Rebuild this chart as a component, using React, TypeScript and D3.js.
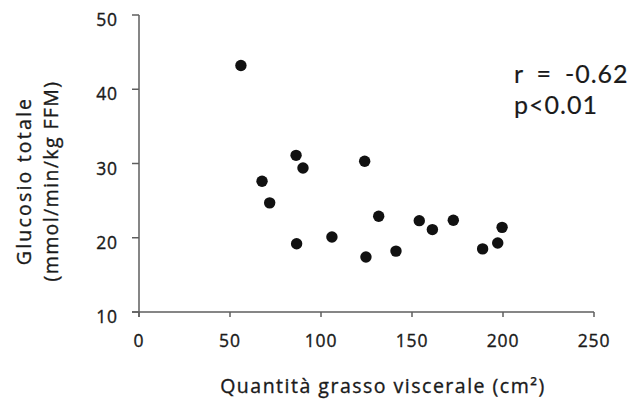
import React from "react";
import * as d3 from "d3";

const grassoViscerale = [56, 67.6, 71.8, 86.3, 90.1, 86.6, 106.0, 124.0, 124.7, 131.7, 141.2, 154.0, 161.2, 172.7, 188.8, 197.1, 199.5];
const glucosioTotale = [43.2, 27.6, 24.7, 31.1, 29.4, 19.2, 20.1, 30.3, 17.4, 22.9, 18.2, 22.3, 21.1, 22.35, 18.5, 19.3, 21.4];
const xTicks = [0, 50, 100, 150, 200, 250];
const yTicks = [10, 20, 30, 40, 50];
const xLabel = "Quantità grasso viscerale (cm²)";
const yLabelLines = ["Glucosio totale", "(mmol/min/kg FFM)"];
const statLines = ["r = -0.62", "p<0.01"];

const W = 632;
const H = 401;
const FONT = "'Open Sans', 'DejaVu Sans', sans-serif";
const STAT_FONT = "Lato, 'Open Sans', sans-serif";

export default function App() {
  const x = d3.scaleLinear().domain([0, 250]).range([139, 594]);
  const y = d3.scaleLinear().domain([10, 50]).range([312, 15]);
  const axisColor = "#5e5e5e";
  const textColor = "#1a1a1a";
  const heavy = { stroke: textColor, strokeWidth: 0.35 };
  const pts = grassoViscerale.map((v, i) => ({ x: v, y: glucosioTotale[i] }));
  return (
    <svg width={W} height={H} style={{ position: "absolute", left: 0, top: 0, background: "#fff" }}>
      <rect width={W} height={H} fill="#fff" />
      {/* axes */}
      <line x1={x(0)} x2={x(0)} y1={y(50)} y2={y(10) + 5} stroke={axisColor} strokeWidth={1.5} />
      <line x1={x(0) - 7} x2={x(250)} y1={y(10)} y2={y(10)} stroke={axisColor} strokeWidth={1.5} />
      {yTicks.map((t) => (
        <g key={"y" + t}>
          <line x1={x(0) - 7} x2={x(0)} y1={y(t)} y2={y(t)} stroke={axisColor} strokeWidth={1.5} />
          <text x={x(0) - 21} y={y(t) + 11} textAnchor="end" fontFamily={FONT} fontSize={17.5} fill={textColor} letterSpacing={0.9} {...heavy}>
            {t}
          </text>
        </g>
      ))}
      {xTicks.map((t) => (
        <g key={"x" + t}>
          <line x1={x(t)} x2={x(t)} y1={y(10)} y2={y(10) + 5} stroke={axisColor} strokeWidth={1.5} />
          <text x={x(t)} y={y(10) + 35} textAnchor="middle" fontFamily={FONT} fontSize={17.5} fill={textColor} letterSpacing={0.9} {...heavy}>
            {t}
          </text>
        </g>
      ))}
      {/* points */}
      {pts.map((p, i) => (
        <circle key={i} cx={x(p.x)} cy={y(p.y)} r={5.7} fill="#111" />
      ))}
      {/* axis titles */}
      <text x={383} y={393} textAnchor="middle" fontFamily={FONT} fontSize={19.5} fill={textColor} letterSpacing={1.5} {...heavy}>
        {xLabel}
      </text>
      {yLabelLines.map((l, i) => (
        <text
          key={l}
          transform={`translate(${31 + i * 27},181) rotate(-90)`}
          textAnchor="middle"
          fontFamily={FONT}
          fontSize={19.5}
          fill={textColor}
          letterSpacing={i === 0 ? 2.2 : 1.4}
          {...heavy}
        >
          {l}
        </text>
      ))}
      {statLines.map((l, i) => (
        <text key={l} x={514} y={83 + i * 31} fontFamily={STAT_FONT} fontSize={25} fill={textColor} letterSpacing={1} wordSpacing={5.5} stroke={textColor} strokeWidth={0.2}>
          {l}
        </text>
      ))}
    </svg>
  );
}
